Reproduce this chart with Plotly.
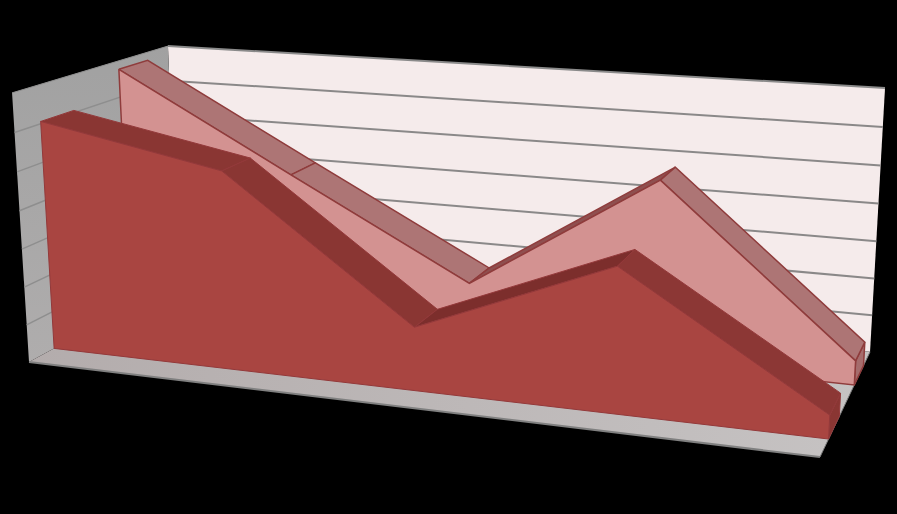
import numpy as np
import plotly.graph_objects as go

# chart data (value axis runs 0..7)
categories = [0, 1, 2, 3, 4]
front_values = [6.06, 5.15, 1.63, 3.64, 0.58]
back_values = [6.77, 4.2, 1.66, 4.83, 0.63]
gridline_values = [1, 2, 3, 4, 5, 6]
value_max = 7

# where the series sit inside the depth of the box (0 = front, 1 = back)
front_depth = (0.15, 0.35)
back_depth = (0.65, 0.85)

# pixel positions of the visible box corners, used to solve the camera
corner_box = [(0, 0, 0), (1, 0, 0), (1, 1, 0), (0, 0, 1), (0, 1, 1), (1, 1, 1)]
corner_px = [(29, 362), (820, 457), (870, 352), (12, 93), (168, 46), (885, 88)]


# Solve a 3x4 projection matrix from the corners
def solve_camera(box, px):
    rows = []
    for (x, d, z), (u, v) in zip(box, px):
        rows.append([x, d, z, 1, 0, 0, 0, 0, -u*x, -u*d, -u*z, -u])
        rows.append([0, 0, 0, 0, x, d, z, 1, -v*x, -v*d, -v*z, -v])
    return np.linalg.svd(np.array(rows, dtype=float))[2][-1].reshape(3, 4)


P = solve_camera(corner_box, corner_px)


# Map box points (x 0..1, depth 0..1, value) on the picture
def project(x, d, val):
    pts = np.column_stack([x, d, np.asarray(val, dtype=float) / value_max, np.ones(len(x))])
    q = pts @ P.T
    return q[:, 0] / q[:, 2], q[:, 1] / q[:, 2]


fig = go.Figure()


def add_face(x, d, val, color, line=None, width=0, gradient=None):
    u, v = project(np.array(x, dtype=float), np.array(d, dtype=float), val)
    u = np.append(u, u[0])
    v = np.append(v, v[0])
    trace = go.Scatter(x=u, y=v, mode='lines', fill='toself', fillcolor=color,
                       line=dict(color=line or color, width=width if line else 0),
                       hoverinfo='skip', showlegend=False)
    if gradient:
        trace.fillgradient = gradient
    fig.add_trace(trace)


def add_line(x, d, val, color, width):
    u, v = project(np.array(x, dtype=float), np.array(d, dtype=float), val)
    fig.add_trace(go.Scatter(x=u, y=v, mode='lines', line=dict(color=color, width=width),
                             hoverinfo='skip', showlegend=False))


# Draw one area series: side end, top strips, then the front face
def add_series(values, depth, face, tops, side, edge, width):
    xs = np.array(categories) / (len(categories) - 1)
    d0, d1 = depth
    add_face([1, 1, 1, 1], [d0, d1, d1, d0], [0, 0, values[-1], values[-1]], side, edge, width)
    for i in range(len(xs) - 1):
        add_face([xs[i], xs[i+1], xs[i+1], xs[i]], [d0, d0, d1, d1],
                 [values[i], values[i+1], values[i+1], values[i]], tops[i], edge, width)
    add_face([0, *xs, 1], [d0] * (len(xs) + 2), [0, *values, 0], face, edge, width)


# Walls and floor
add_face([0, 1, 1, 0], [1, 1, 1, 1], [0, 0, value_max, value_max], '#f5ebeb')
add_face([0, 0, 0, 0], [0, 1, 1, 0], [0, 0, value_max, value_max], '#a3a3a3',
         gradient=dict(type='vertical', colorscale=[[0, '#afadad'], [1, '#a1a1a1']]))
add_face([0, 1, 1, 0], [0, 0, 1, 1], [0, 0, 0, 0], '#b8b0b0',
         gradient=dict(type='horizontal', colorscale=[[0, '#b3acac'], [1, '#c6c3c3']]))

for g in gridline_values:
    add_line([0, 0], [0, 1], [g, g], '#8e8e8e', 1.5)
    add_line([0, 1], [1, 1], [g, g], '#8a8888', 2)
add_line([0, 1], [1, 1], [value_max, value_max], '#8a8a8a', 2)
add_line([0, 0], [0, 1], [value_max, value_max], '#8e8e8e', 1)
add_line([0, 1], [0, 0], [0, 0], '#808080', 2)
add_line([1, 1], [0, 1], [0, 0], '#808080', 1)

add_series(back_values, back_depth, '#d39291',
           ['#ad7575', '#ad7575', '#8f4f4f', '#ad7575'], '#a56c6c', '#8f3c3c', 1.5)
add_series(front_values, front_depth, '#a94541',
           ['#8a3633', '#8a3633', '#7c2e2c', '#8c3735'], '#8a3633', '#93393a', 1)

fig.update_layout(
    width=897,
    height=514,
    margin=dict(l=0, r=0, t=0, b=0),
    paper_bgcolor='black',
    plot_bgcolor='black',
    showlegend=False,
    xaxis=dict(range=[0, 897], visible=False, fixedrange=True),
    yaxis=dict(range=[514, 0], visible=False, fixedrange=True),
)

fig.write_html("out.html", config=dict(displayModeBar=False),
               post_script="document.body.style.margin='0';document.body.style.background='black';")
